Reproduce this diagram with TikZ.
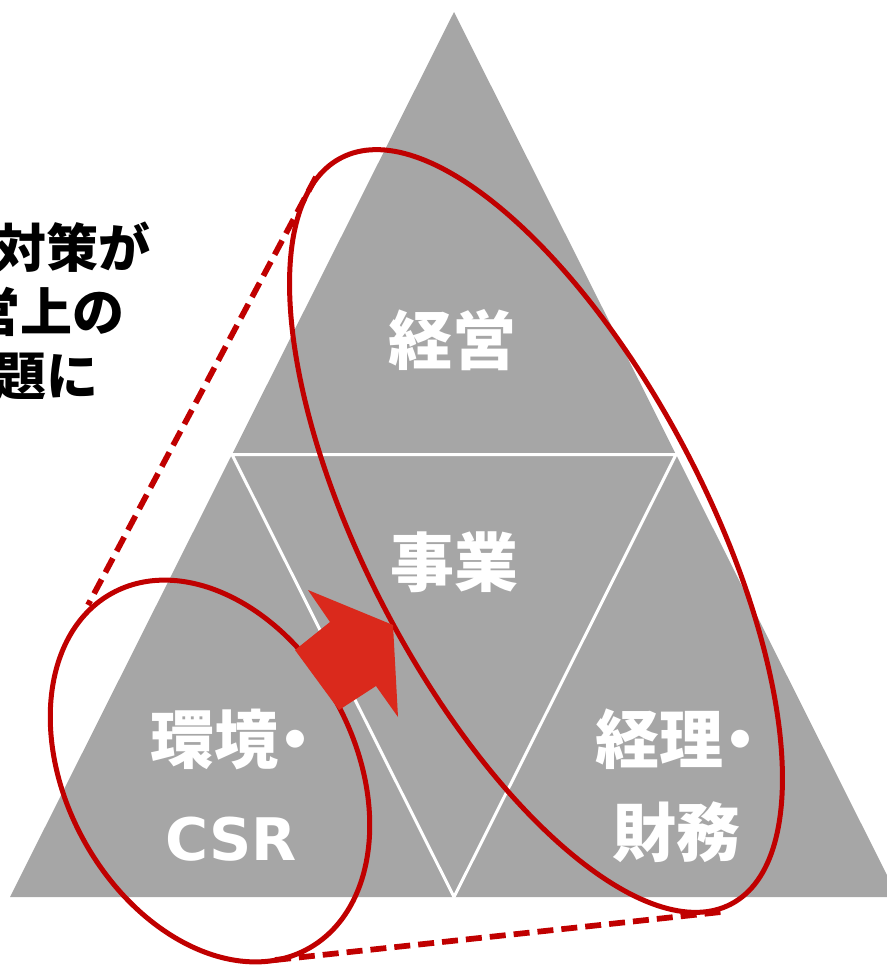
\documentclass[tikz,border=0pt]{standalone}
\usepackage{fontspec}
\newfontfamily\jp{Noto Sans CJK JP}
\newfontfamily\latn{DejaVu Sans}
\definecolor{trigray}{HTML}{A6A6A6}
\definecolor{darkred}{HTML}{C00000}
\definecolor{arrowred}{HTML}{DA291C}
\begin{document}
\begin{tikzpicture}[x=0.75pt,y=-0.75pt,
  lbl/.style={text=white,font=\jp\bfseries\fontsize{48}{56}\selectfont,inner sep=0pt},
  sep/.style={draw=white,line width=2.25pt},
  ring/.style={draw=darkred,line width=3.75pt},
  callout/.style={draw=darkred,line width=4.3pt,dash pattern=on 12pt off 6pt},
  blockarrow/.style={fill=arrowred,draw=none}]
\useasboundingbox (0,0) rectangle (887,965);
% big triangle
\coordinate (apex) at (454,12);
\coordinate (bl) at (10,897);
\coordinate (br) at (898,897);
\coordinate (ml) at (232,454.5);
\coordinate (mr) at (676,454.5);
\coordinate (mb) at (454,897);
\fill[trigray] (apex) -- (bl) -- (br) -- cycle;
\draw[sep] (ml) -- (mr) -- (mb) -- cycle;
% labels
\node[lbl] (keiei) at (452,340) {経営};
\node[lbl] (jigyo) at (454,562) {事業};
\node[lbl,anchor=west] (kankyo) at (150,739) {環境\hspace{-11pt}・};
\node[lbl,font=\latn\bfseries\fontsize{44}{50}\selectfont] (csr) at (231,839) {CSR};
\node[lbl,anchor=west] (keiri) at (595,739) {経理\hspace{-11pt}・};
\node[lbl] (zaimu) at (676,832) {財務};
% left text (cropped at the picture's edge, as in the reference)
\node[inner sep=0pt,align=center,font=\jp\bfseries\fontsize{39}{48}\selectfont] (note) at (21,311) {環境対策が\\経営上の\\課題に};
% ellipses
\draw[ring,rotate around={-62.4:(536,531)}] (536,531) ellipse [x radius=421, y radius=170];
\draw[ring,rotate around={-61.1:(210,771)}] (210,771) ellipse [x radius=203, y radius=144];
% callout dashed lines
\coordinate (bigtop) at (316,177);
\coordinate (smalltop) at (88,605);
\coordinate (smallbot) at (275,960);
\coordinate (bigbot) at (721,912);
\draw[callout] (bigtop) -- (smalltop);
\draw[callout] (smallbot) -- (bigbot);
% block arrow
\coordinate (a1) at (295,650);
\coordinate (a2) at (330,622);
\coordinate (a3) at (308,590);
\coordinate (a4) at (393,625);
\coordinate (a5) at (398,717);
\coordinate (a6) at (376,686);
\coordinate (a7) at (339,710);
\fill[blockarrow] (a1) -- (a2) -- (a3) -- (a4) -- (a5) -- (a6) -- (a7) -- cycle;
\end{tikzpicture}
\end{document}
